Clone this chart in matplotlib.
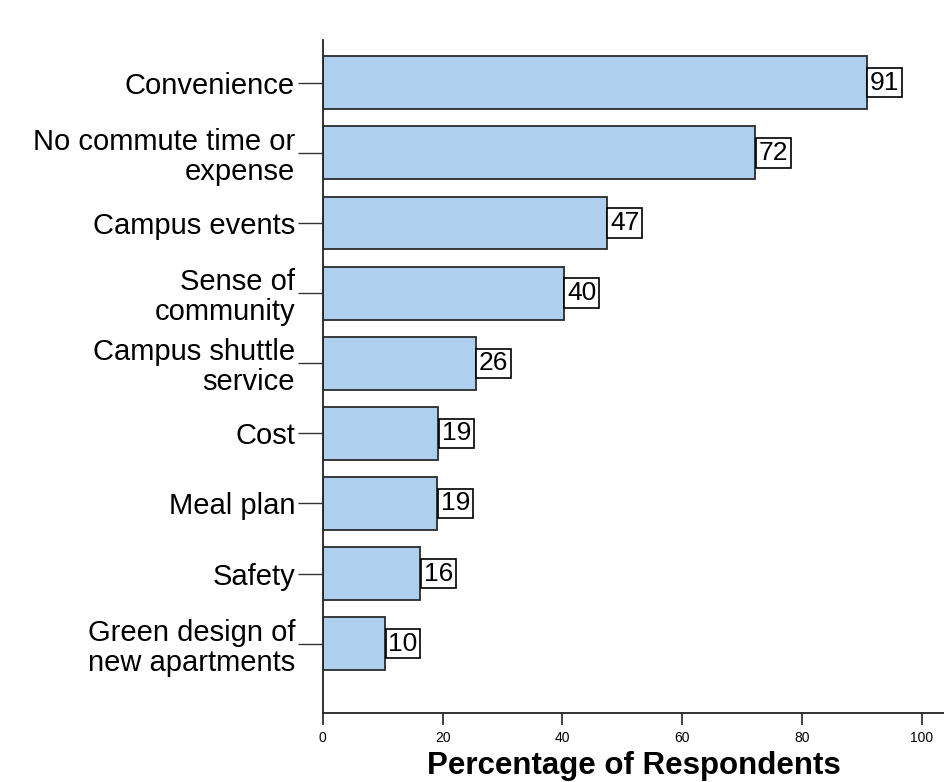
import numpy as np
import matplotlib.pyplot as plt

# ---------------- data ----------------
reasons = ["Convenience", "No commute time or\nexpense", "Campus events",
           "Sense of\ncommunity", "Campus shuttle\nservice", "Cost",
           "Meal plan", "Safety", "Green design of\nnew apartments"]
bar_values = [90.8, 72.2, 47.4, 40.2, 25.5, 19.3, 19.1, 16.3, 10.4]
value_labels = ["91", "72", "47", "40", "26", "19", "19", "16", "10"]
x_ticks = [0, 20, 40, 60, 80, 100]

plt.rcParams['font.family'] = ['Liberation Sans', 'DejaVu Sans']

fig = plt.figure(figsize=(9.44, 7.82), dpi=100)
ax = fig.add_axes([0.342, 0.0882, 0.658, 0.8606])

pos = np.arange(len(reasons))
ax.barh(pos, bar_values, height=0.755, color="#aecfee",
        edgecolor="#2b2b2b", linewidth=1.3, zorder=2)

# value boxes glued to bar ends
pad = 0.1
for p, v, lab in zip(pos, bar_values, value_labels):
    ax.annotate(lab, xy=(v, p), xytext=(pad * 19 + 0.5, 0),
                textcoords="offset points",
                ha="left", va="center", fontsize=19, color="black",
                bbox=dict(boxstyle=f"square,pad={pad}", fc="white",
                          ec="black", lw=1.2), zorder=3)

ax.set_ylim(len(reasons) - 1 + 0.99, -0.61)
ax.set_xlim(0, 103.7)
ax.set_yticks(pos)
ax.set_yticklabels(reasons, fontsize=21, linespacing=1.1)
ax.set_xticks(x_ticks)
ax.set_xticklabels([str(t) for t in x_ticks], fontsize=10)

ax.tick_params(axis="y", length=18, width=1.0, pad=2, color="#333333")
ax.tick_params(axis="x", length=8.6, width=1.3, pad=4, color="#333333")

for side in ["top", "right"]:
    ax.spines[side].set_visible(False)
for side in ["left", "bottom"]:
    ax.spines[side].set_linewidth(1.3)
    ax.spines[side].set_color("#222222")

ax.set_xlabel("Percentage of Respondents", fontsize=22.5, fontweight="bold",
              labelpad=5)

plt.savefig("out.png", dpi=100)
